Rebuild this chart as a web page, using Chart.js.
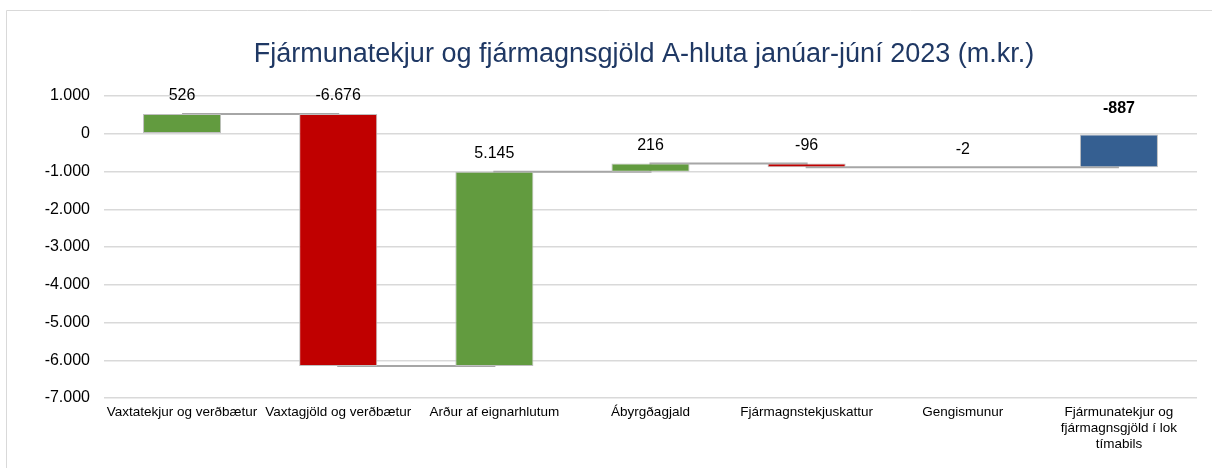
<!DOCTYPE html>
<html>
<head>
<meta charset="utf-8">
<script src="https://cdn.jsdelivr.net/npm/chart.js@4.4.0/dist/chart.umd.min.js"></script>
<style>
  html, body { margin: 0; padding: 0; background: #ffffff; }
  #wrap { position: relative; width: 1212px; height: 468px; }
</style>
</head>
<body>
<div id="wrap"><canvas id="waterfall"></canvas></div>
<script>
// flokkar (x-ás)
const categories = [
    'Vaxtatekjur og verðbætur',
    'Vaxtagjöld og verðbætur',
    'Arður af eignarhlutum',
    'Ábyrgðagjald',
    'Fjármagnstekjuskattur',
    'Gengismunur',
    ['Fjármunatekjur og', 'fjármagnsgjöld í lok', 'tímabils']
];
// breytingar hvers liðar (m.kr.)
const changes = [526, -6676, 5145, 216, -96, -2];
const total = -887;
// y-ás
const yTicks = [1000, 0, -1000, -2000, -3000, -4000, -5000, -6000, -7000];

const TITLE = 'Fjármunatekjur og fjármagnsgjöld A-hluta janúar-júní 2023 (m.kr.)';
const GREEN = '#629b3f';
const RED = '#c00000';
const BLUE = '#355f91';
const FONT = '"Liberation Sans", Arial, sans-serif';

// fljótandi súlur: [byrjun, endir]
const ranges = [];
const levels = [];
let run = 0;
changes.forEach(c => {
    ranges.push([run, run + c]);
    run += c;
    levels.push(run);
});
ranges.push([0, total]);
levels.push(total);

const barColors = changes.map(c => c >= 0 ? GREEN : RED).concat([BLUE]);
const labelValues = changes.concat([total]);

function fmt(v) {
    const s = Math.abs(v).toString().replace(/\B(?=(\d{3})+(?!\d))/g, '.');
    return (v < 0 ? '-' : '') + s;
}

// titill, rammi og gildismerki
const labelPlugin = {
    id: 'labelPlugin',
    beforeDraw(chart) {
        const ctx = chart.ctx;
        ctx.save();
        ctx.strokeStyle = '#d9d9d9';
        ctx.lineWidth = 1;
        ctx.beginPath();
        ctx.moveTo(6.5, 468);
        ctx.lineTo(6.5, 10.5);
        ctx.lineTo(1212, 10.5);
        ctx.stroke();
        // titill
        ctx.fillStyle = '#1f3864';
        ctx.font = '27px ' + FONT;
        ctx.textAlign = 'center';
        ctx.textBaseline = 'alphabetic';
        ctx.fillText(TITLE, 644, 62);
        ctx.restore();
    },
    afterDatasetsDraw(chart) {
        const ctx = chart.ctx;
        const meta = chart.getDatasetMeta(1);
        ctx.save();
        ctx.fillStyle = '#000000';
        ctx.textAlign = 'center';
        ctx.textBaseline = 'middle';
        meta.data.forEach((bar, i) => {
            const top = Math.min(bar.y, bar.base);
            const last = i === labelValues.length - 1;
            ctx.font = (last ? 'bold ' : '') + '16px ' + FONT;
            ctx.fillText(fmt(labelValues[i]), bar.x, top - (last ? 26 : 18));
        });
        ctx.restore();
    }
};

const ctx = document.getElementById('waterfall').getContext('2d');
new Chart(ctx, {
    data: {
        labels: categories,
        datasets: [{
            type: 'line',
            data: levels,
            stepped: 'before',
            borderColor: '#a6a6a6',
            borderWidth: 2,
            pointRadius: 0,
            fill: false,
            order: 2
        }, {
            type: 'bar',
            data: ranges,
            backgroundColor: barColors,
            borderColor: '#bfbfbf',
            borderWidth: 1,
            borderSkipped: false,
            barPercentage: 0.5,
            categoryPercentage: 1.0,
            order: 1
        }]
    },
    options: {
        responsive: true,
        maintainAspectRatio: false,
        animation: false,
        layout: { padding: { left: 0, right: 15, top: 96, bottom: 0 } },
        plugins: {
            legend: { display: false },
            tooltip: { enabled: false },
            title: { display: false }
        },
        scales: {
            x: {
                grid: { display: false },
                border: { display: false },
                ticks: {
                    color: '#000000',
                    font: { family: FONT, size: 13.5 },
                    maxRotation: 0,
                    autoSkip: false,
                    padding: -2
                },
                afterFit(scale) { scale.height = 70; }
            },
            y: {
                min: -7000,
                max: 1000,
                afterBuildTicks(scale) { scale.ticks = yTicks.map(v => ({ value: v })); },
                grid: { color: '#d9d9d9', lineWidth: 1.5, drawTicks: false },
                border: { display: false },
                ticks: {
                    color: '#000000',
                    font: { family: FONT, size: 16 },
                    padding: 14,
                    callback: v => fmt(v)
                },
                afterFit(scale) { scale.width = 104; }
            }
        }
    },
    plugins: [labelPlugin]
});
</script>
</body>
</html>
